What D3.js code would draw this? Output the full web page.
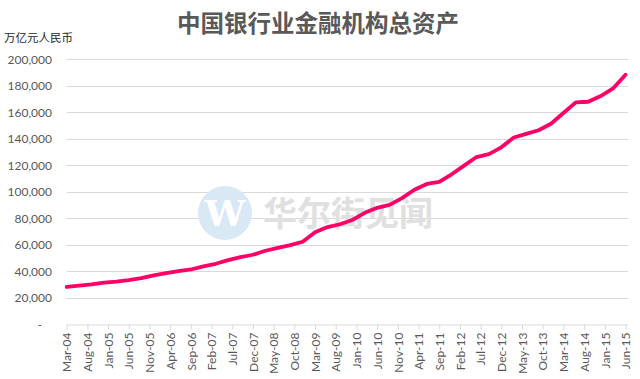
<!DOCTYPE html>
<html><head><meta charset="utf-8">
<script src="https://cdn.jsdelivr.net/npm/d3@7"></script>
<style>
html,body{margin:0;padding:0;background:#fff;}
svg{display:block;font-family:"Noto Sans CJK SC","Noto Sans",sans-serif;}
</style></head>
<body><svg id="c" width="640" height="379"></svg>
<script>
const title = "中国银行业金融机构总资产";
const unitLabel = "万亿元人民币";
const periods = [
 "Mar-04","Jun-04","Sep-04","Dec-04","Mar-05","Jun-05","Sep-05","Dec-05",
 "Mar-06","Jun-06","Sep-06","Dec-06","Mar-07","Jun-07","Sep-07","Dec-07",
 "Mar-08","Jun-08","Sep-08","Dec-08","Mar-09","Jun-09","Sep-09","Dec-09",
 "Mar-10","Jun-10","Sep-10","Dec-10","Mar-11","Jun-11","Sep-11","Dec-11",
 "Mar-12","Jun-12","Sep-12","Dec-12","Mar-13","Jun-13","Sep-13","Dec-13",
 "Mar-14","Jun-14","Sep-14","Dec-14","Mar-15","Jun-15"];
const assets = [
 28300,29400,30300,31600, 32300,33500,35000,37000,
 38700,40200,41500,43900, 45800,48500,50800,52600,
 55600,57800,59800,62400, 69500,73500,75600,78800,
 84200,88000,90200,95300, 101600,106000,107500,113300,
 119800,126300,128500,133600, 141000,143800,146500,151400,
 159500,167500,168000,172300, 178000,188400];
const xTickLabels = ["Mar-04","Aug-04","Jan-05","Jun-05","Nov-05","Apr-06","Sep-06","Feb-07","Jul-07","Dec-07","May-08","Oct-08","Mar-09","Aug-09","Jan-10","Jun-10","Nov-10","Apr-11","Sep-11","Feb-12","Jul-12","Dec-12","May-13","Oct-13","Mar-14","Aug-14","Jan-15","Jun-15"];
const yTicks = [0,20000,40000,60000,80000,100000,120000,140000,160000,180000,200000];

const parse = d3.timeParse("%b-%y");
const mIdx = s => { const d = parse(s); return (d.getFullYear()-2004)*12 + d.getMonth() - 2; };

const svg = d3.select("#c");
const x = d3.scaleLinear().domain([mIdx("Mar-04"), mIdx("Jun-15")]).range([66.7, 625.5]);
const y = d3.scaleLinear().domain([0, 200000]).range([324.5, 59.3]);

// gridlines
svg.append("g").selectAll("line").data(yTicks.filter(v=>v>0)).join("line")
  .attr("x1",66.5).attr("x2",628).attr("y1",d=>Math.round(y(d))+0.5).attr("y2",d=>Math.round(y(d))+0.5)
  .attr("stroke","#d9d9d9").attr("stroke-width",1);

// y axis labels
const yAxis = d3.axisLeft(y).tickValues(yTicks).tickSize(0).tickPadding(0)
  .tickFormat(d => d===0 ? "-" : d3.format(",")(d));
const yg = svg.append("g").attr("transform","translate(52,0)").call(yAxis);
yg.select(".domain").remove();
yg.selectAll("text").attr("fill","#595959").style("font-family","Lato,'Open Sans',sans-serif").style("font-size","12px")
  .attr("x", d => d===0 ? -10 : 0);

// watermark
const wm = svg.append("g");
wm.append("circle").attr("cx",225).attr("cy",213).attr("r",27).attr("fill","#d9e8f5");
wm.append("text").attr("x",225).attr("y",226).attr("text-anchor","middle").attr("fill","#fff")
  .style("font-family","'DejaVu Serif',serif").style("font-size","36px").style("font-weight","bold").text("W");
wm.append("text").attr("x",263).attr("y",226).attr("fill","#e0e0e0")
  .style("font-family","'Noto Sans CJK SC',sans-serif").style("font-size","34px").style("font-weight","bold")
  .text("华尔街见闻");

// x axis
const xg = svg.append("g").attr("transform","translate(0,324.5)")
  .call(d3.axisBottom(x).tickValues(xTickLabels.map(mIdx)).tickSize(5).tickPadding(4)
    .tickFormat((d,i)=>xTickLabels[i]));
xg.select(".domain").attr("stroke","#d9d9d9").attr("d","M66.5,0.5H628");
xg.selectAll(".tick line").attr("stroke","#d9d9d9");
xg.selectAll("text").attr("fill","#595959").style("font-family","Lato,'Open Sans',sans-serif").style("font-size","12px")
  .attr("transform","rotate(-90)").attr("text-anchor","end").attr("x",-8).attr("y",0).attr("dy","0.35em")
  .attr("dx",0);

// line
const data = periods.map((p,i)=>({m:mIdx(p), v:assets[i]}));
svg.append("path").datum(data)
  .attr("d", d3.line().x(d=>x(d.m)).y(d=>y(d.v)))
  .attr("fill","none").attr("stroke","#ff0066").attr("stroke-width",3.8)
  .attr("stroke-linejoin","round").attr("stroke-linecap","round");

// titles
svg.append("text").attr("x",318).attr("y",32).attr("text-anchor","middle").attr("fill","#595959")
  .style("font-size","23.5px").style("font-weight","bold").text(title);
svg.append("text").attr("x",4).attr("y",42).attr("fill","#262626")
  .style("font-size","11.5px").text(unitLabel);
</script></body></html>
